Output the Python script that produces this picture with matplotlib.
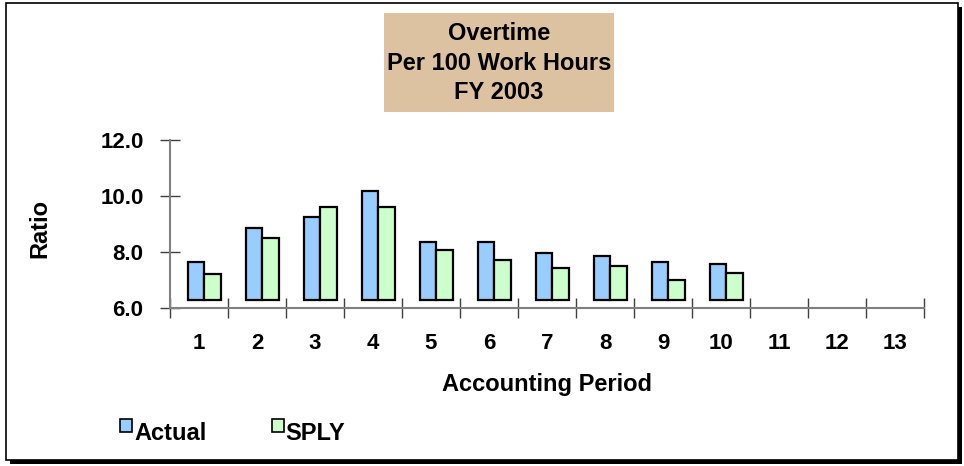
import matplotlib.pyplot as plt
from matplotlib.patches import Rectangle
import numpy as np

plt.rcParams['font.family'] = ['Liberation Sans', 'DejaVu Sans']
plt.rcParams['font.weight'] = 'bold'

periods = [str(i) for i in range(1, 14)]
actual = [7.63, 8.85, 9.26, 10.17, 8.36, 8.36, 7.96, 7.87, 7.65, 7.57]
sply = [7.22, 8.49, 9.61, 9.62, 8.08, 7.70, 7.44, 7.51, 6.99, 7.26]
yticks = [6.0, 8.0, 10.0, 12.0]

W, H = 964, 466
fig = plt.figure(figsize=(W / 100, H / 100), dpi=100)

def px(x0, y0, x1, y1):
    # pixel box (top-left origin) -> figure fraction rect
    return (x0 / W, 1 - y1 / H, (x1 - x0) / W, (y1 - y0) / H)

def box(x0, y0, x1, y1, **kw):
    bx, by, bw_, bh = px(x0, y0, x1, y1)
    fig.patches.append(Rectangle((bx, by), bw_, bh, transform=fig.transFigure, **kw))

# frame with drop shadow
box(10, 7, 962, 464, facecolor='black', edgecolor='none', zorder=0)
box(6, 3, 958, 460, facecolor='white', edgecolor='black', linewidth=1.2, zorder=1)

# title box
box(384, 13, 614, 112, facecolor='#DDC2A2', edgecolor='none', zorder=2)
fig.text(499 / W, 1 - 63 / H, 'Overtime\nPer 100 Work Hours\nFY 2003',
         ha='center', va='center', fontsize=17, fontweight='bold',
         linespacing=1.37, zorder=3)

ax = fig.add_axes(px(170, 140, 924, 308))
ax.set_zorder(3)
ax.patch.set_visible(False)

x = np.arange(1, len(actual) + 1)
bw = 0.285
off = 0.09
base = 6.27
ax.bar(x + off - bw / 2, np.array(actual) - base, bw, bottom=base,
       color='#99CCFF', edgecolor='black', linewidth=1.6)
ax.bar(x + off + bw / 2, np.array(sply) - base, bw, bottom=base,
       color='#CCFFCC', edgecolor='black', linewidth=1.6)

ax.set_xlim(0.5, 13.5)
ax.set_ylim(6.0, 12.0)
for s in ['top', 'right']:
    ax.spines[s].set_visible(False)
for s in ['left', 'bottom']:
    ax.spines[s].set_color('#808080')
    ax.spines[s].set_linewidth(1.5)

ax.set_yticks(yticks)
ax.set_yticklabels(['%.1f' % v for v in yticks], fontsize=16, fontweight='bold')
ax.tick_params(axis='y', direction='inout', length=14, width=1, color='#404040', pad=12)

ax.set_xticks(np.arange(0.5, 14.0, 1.0))
ax.set_xticklabels([])
ax.set_xticks(np.arange(1, 14), minor=True)
ax.set_xticklabels(periods, minor=True, fontsize=16, fontweight='bold')
ax.tick_params(axis='x', which='major', direction='inout', length=14, width=1, color='#404040')
ax.tick_params(axis='x', which='minor', length=0, pad=18)

fig.text(40 / W, 1 - 228 / H, 'Ratio', rotation=90, ha='center', va='center',
         fontsize=17, fontweight='bold')
fig.text(547 / W, 1 - 384 / H, 'Accounting Period', ha='center', va='center',
         fontsize=17, fontweight='bold')

# legend
box(120, 419, 132, 432, facecolor='#99CCFF', edgecolor='black', linewidth=1.2, zorder=3)
fig.text(134 / W, 1 - 433 / H, 'Actual', ha='left', va='center', fontsize=17, fontweight='bold')
box(272, 419, 284, 432, facecolor='#CCFFCC', edgecolor='black', linewidth=1.2, zorder=3)
fig.text(285 / W, 1 - 433 / H, 'SPLY', ha='left', va='center', fontsize=17, fontweight='bold')

fig.savefig('out.png', dpi=100)
